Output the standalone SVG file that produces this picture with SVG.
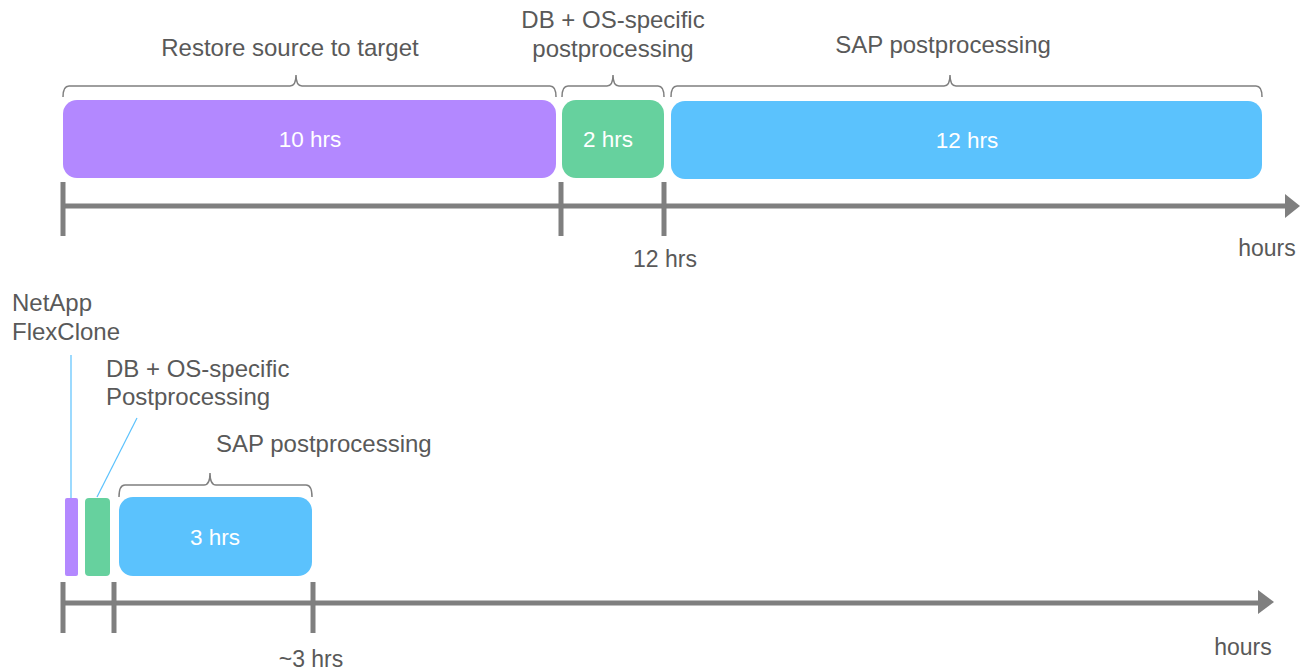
<svg xmlns="http://www.w3.org/2000/svg" width="1301" height="670" viewBox="0 0 1301 670">
<style>
.lbl{font-family:"Liberation Sans",Arial,sans-serif;font-size:24px;fill:#595959}
.ax{font-family:"Liberation Sans",Arial,sans-serif;font-size:23px;fill:#595959;text-anchor:middle}
.in{font-family:"Liberation Sans",Arial,sans-serif;font-size:22.5px;fill:#ffffff;text-anchor:middle}
.brace{fill:none;stroke:#7f7f7f;stroke-width:1.5}
.axis{stroke:#7f7f7f;stroke-width:5;fill:none}
.tick{stroke:#7f7f7f;stroke-width:5}
.lead{stroke:#5bc2fd;stroke-width:1.2;fill:none}
.p{fill:#b388ff}.g{fill:#66d19e}.b{fill:#5bc2fd}
</style>
<g id="top-restore">
<path class="brace" d="M63,97 Q63,86 69,86 L290,86 Q296,86 296,75 Q296,86 302,86 L550,86 Q556,86 556,97"/>
<text class="lbl" x="290" y="56" text-anchor="middle">Restore source to target</text>
<rect class="p" x="63" y="100" width="493" height="78" rx="14"/>
<text class="in" x="310" y="147">10 hrs</text>
</g>
<g id="top-db">
<path class="brace" d="M562,97 Q562,86 568,86 L607,86 Q613,86 613,75 Q613,86 619,86 L658,86 Q664,86 664,97"/>
<text class="lbl" x="613" y="28" text-anchor="middle">DB + OS-specific</text>
<text class="lbl" x="613" y="57" text-anchor="middle">postprocessing</text>
<rect class="g" x="562" y="100" width="102" height="78" rx="14"/>
<text class="in" x="608" y="147">2 hrs</text>
</g>
<g id="top-sap">
<path class="brace" d="M671,97 Q671,86 677,86 L944,86 Q950,86 950,75 Q950,86 956,86 L1256,86 Q1262,86 1262,97"/>
<text class="lbl" x="943" y="53" text-anchor="middle">SAP postprocessing</text>
<rect class="b" x="671" y="101" width="591" height="78" rx="14"/>
<text class="in" x="967" y="148">12 hrs</text>
</g>
<g id="top-axis">
<line class="axis" x1="63" y1="206" x2="1287" y2="206"/>
<polygon points="1285,194 1300,206 1285,218" fill="#7f7f7f"/>
<line class="tick" x1="63" y1="182" x2="63" y2="236"/>
<line class="tick" x1="561" y1="182" x2="561" y2="236"/>
<line class="tick" x1="664" y1="182" x2="664" y2="236"/>
<text class="ax" x="665" y="267">12 hrs</text>
<text class="ax" x="1267" y="256">hours</text>
</g>
<g id="bottom-flexclone">
<text class="lbl" x="12" y="311">NetApp</text>
<text class="lbl" x="12" y="340">FlexClone</text>
<rect class="p" x="65" y="498" width="13" height="78" rx="2"/>
</g>
<g id="bottom-db">
<text class="lbl" x="106" y="377">DB + OS-specific</text>
<text class="lbl" x="106" y="405">Postprocessing</text>
<rect class="g" x="85" y="498" width="25" height="78" rx="4"/>
</g>
<g id="bottom-sap">
<path class="brace" d="M119,497 Q119,485 125,485 L204,485 Q210,485 210,473 Q210,485 216,485 L306,485 Q312,485 312,497"/>
<text class="lbl" x="216" y="452">SAP postprocessing</text>
<rect class="b" x="119" y="497" width="193" height="79" rx="14"/>
<text class="in" x="215" y="545">3 hrs</text>
</g>
<g id="connectors">
<line class="lead" x1="71" y1="355" x2="71" y2="498"/>
<line class="lead" x1="137" y1="418" x2="97" y2="497"/>
</g>
<g id="bottom-axis">
<line class="axis" x1="63" y1="603" x2="1260" y2="603"/>
<polygon points="1258,590 1274,602 1258,614" fill="#7f7f7f"/>
<line class="tick" x1="63" y1="582" x2="63" y2="633"/>
<line class="tick" x1="114" y1="582" x2="114" y2="633"/>
<line class="tick" x1="313" y1="582" x2="313" y2="633"/>
<text class="ax" x="311" y="667">~3 hrs</text>
<text class="ax" x="1243" y="655">hours</text>
</g>
</svg>
